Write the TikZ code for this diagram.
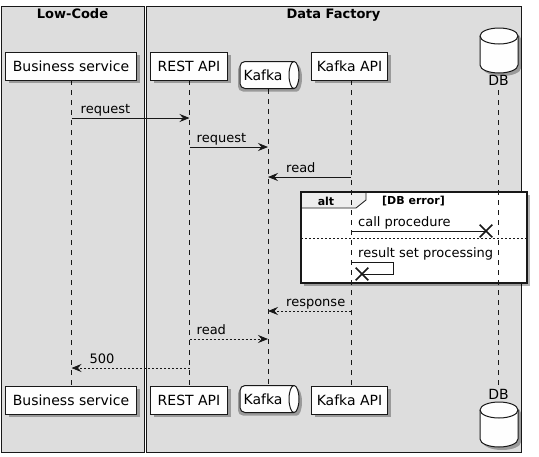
\documentclass[tikz,border=0pt]{standalone}
\usepackage{fontspec}
\setmainfont{DejaVu Sans}
\usetikzlibrary{arrows.meta,shadows,shapes.misc}
\definecolor{bg}{HTML}{DDDDDD}
\definecolor{ln}{HTML}{181818}
\definecolor{part}{HTML}{FEFEFE}
\definecolor{tabc}{HTML}{EEEEEE}
\begin{document}
\begin{tikzpicture}[x=1pt,y=-1pt,
  frame/.style={draw=ln, fill=bg, line width=0.9pt},
  shad/.style={drop shadow={shadow xshift=3pt, shadow yshift=-3pt, opacity=0.3, fill=black}},
  ptbox/.style={draw=ln, fill=part, line width=1pt, minimum height=28pt, inner sep=0pt,
                font=\fontsize{14}{16}\selectfont, shad},
  ptext/.style={inner sep=0pt, font=\fontsize{14}{16}\selectfont},
  title/.style={font=\fontsize{13}{15}\selectfont\bfseries, anchor=base, inner sep=0pt},
  lbl/.style={font=\fontsize{13}{15}\selectfont, anchor=base west, inner sep=0pt},
  grp/.style={font=\fontsize{11}{13}\selectfont\bfseries, inner sep=0pt},
  lifeline/.style={draw=ln, line width=0.7pt, dash pattern=on 5pt off 5pt},
  msg/.style={draw=ln, line width=0.8pt, -{Stealth[length=10pt,width=8pt,inset=3.5pt]}},
  ret/.style={msg, dash pattern=on 2pt off 2pt},
  plainmsg/.style={draw=ln, line width=0.8pt},
  xmark/.style={cross out, draw=ln, line width=1.6pt, minimum size=11pt, inner sep=0pt},
  shapeline/.style={draw=ln, fill=part, line width=1pt}
]
\useasboundingbox (0,0) rectangle (539,456);
\fill[white] (0,0) rectangle (539,456);

% boxes
\draw[frame] (1,6) rectangle (144,452);
\draw[frame] (146,6) rectangle (521,452);
\node[title] (lowcode) at (72.5,18) {Low-Code};
\node[title] (datafactory) at (333.5,18) {Data Factory};

% lifeline positions
\coordinate (L1) at (71.5,0);
\coordinate (L2) at (189.5,0);
\coordinate (L3) at (268,0);
\coordinate (L4) at (351,0);
\coordinate (L5) at (498.5,0);

% alt group
\fill[white, shad] (301,192) rectangle (527,283);
\filldraw[fill=tabc, draw=ln, line width=0.8pt] (301,192) -- (366,192) -- (366,200) -- (356,208) -- (301,208) -- cycle;
\draw[ln, line width=1.5pt] (301,192) rectangle (527,283);
\node[grp, anchor=base] (altlbl) at (326,205) {alt};
\node[grp, anchor=base west] (cond) at (382,204) {[DB error]};
\draw[ln, line width=0.8pt, dash pattern=on 2pt off 2pt] (301,238) -- (527,238);

% lifelines
\draw[lifeline] (L1 |- 0,80) -- (L1 |- 0,386);
\draw[lifeline] (L2 |- 0,80) -- (L2 |- 0,386);
\draw[lifeline] (L3 |- 0,89) -- (L3 |- 0,385);
\draw[lifeline] (L4 |- 0,80) -- (L4 |- 0,386);
\draw[lifeline] (L5 |- 0,90) -- (L5 |- 0,388);

% top heads
\node[ptbox, minimum width=131pt] (bsT) at (71,66) {Business service};
\node[ptbox, minimum width=77pt] (restT) at (189,66) {REST API};
\node[ptbox, minimum width=76pt] (kapiT) at (349.5,66) {Kafka API};
\begin{scope}[shift={(268,75)}]
  \fill[black, opacity=0.3] (29,-10.5) -- (-25,-10.5) arc[start angle=90,end angle=180,radius=5pt] -- (-30,11.5) arc[start angle=180,end angle=270,radius=5pt] -- (29,16.5) arc[start angle=-90,end angle=90,x radius=5pt,y radius=13.5pt] -- cycle;
  \filldraw[shapeline] (26,-13.5) -- (-23,-13.5) arc[start angle=90,end angle=180,radius=5pt] -- (-28,8.5) arc[start angle=180,end angle=270,radius=5pt] -- (26,13.5) arc[start angle=-90,end angle=90,x radius=5pt,y radius=13.5pt] -- cycle;
  \draw[ln, line width=1pt] (26,-13.5) arc[start angle=90,end angle=270,x radius=5pt,y radius=13.5pt];
\end{scope}
\node[ptext] (kafkaT) at (263,75) {Kafka};
\begin{scope}[shift={(499,50.5)}]
  \fill[black, opacity=0.3] (-16,-11.5) -- (-16,17.5) arc[start angle=180,end angle=360,x radius=19pt,y radius=8pt] -- (22,-11.5) arc[start angle=0,end angle=180,x radius=19pt,y radius=8pt] -- cycle;
  \filldraw[shapeline] (-19,-14.5) -- (-19,14.5) arc[start angle=180,end angle=360,x radius=19pt,y radius=8pt] -- (19,-14.5) arc[start angle=0,end angle=180,x radius=19pt,y radius=8pt] -- cycle;
  \draw[ln, line width=1pt] (-19,-14.5) arc[start angle=180,end angle=360,x radius=19pt,y radius=8pt];
\end{scope}
\node[ptext, anchor=base] (dbT) at (498.5,85) {DB};

% bottom heads
\node[ptbox, minimum width=131pt] (bsB) at (71,400) {Business service};
\node[ptbox, minimum width=77pt] (restB) at (189,400) {REST API};
\node[ptbox, minimum width=76pt] (kapiB) at (349.5,400) {Kafka API};
\begin{scope}[shift={(268,399)}]
  \fill[black, opacity=0.3] (29,-10.5) -- (-25,-10.5) arc[start angle=90,end angle=180,radius=5pt] -- (-30,11.5) arc[start angle=180,end angle=270,radius=5pt] -- (29,16.5) arc[start angle=-90,end angle=90,x radius=5pt,y radius=13.5pt] -- cycle;
  \filldraw[shapeline] (26,-13.5) -- (-23,-13.5) arc[start angle=90,end angle=180,radius=5pt] -- (-28,8.5) arc[start angle=180,end angle=270,radius=5pt] -- (26,13.5) arc[start angle=-90,end angle=90,x radius=5pt,y radius=13.5pt] -- cycle;
  \draw[ln, line width=1pt] (26,-13.5) arc[start angle=90,end angle=270,x radius=5pt,y radius=13.5pt];
\end{scope}
\node[ptext] (kafkaB) at (263,399) {Kafka};
\node[ptext, anchor=base] (dbB) at (498.5,399) {DB};
\begin{scope}[shift={(499,424.5)}]
  \fill[black, opacity=0.3] (-16,-11.5) -- (-16,17.5) arc[start angle=180,end angle=360,x radius=19pt,y radius=8pt] -- (22,-11.5) arc[start angle=0,end angle=180,x radius=19pt,y radius=8pt] -- cycle;
  \filldraw[shapeline] (-19,-14.5) -- (-19,14.5) arc[start angle=180,end angle=360,x radius=19pt,y radius=8pt] -- (19,-14.5) arc[start angle=0,end angle=180,x radius=19pt,y radius=8pt] -- cycle;
  \draw[ln, line width=1pt] (-19,-14.5) arc[start angle=180,end angle=360,x radius=19pt,y radius=8pt];
\end{scope}

% messages
\draw[msg] (L1 |- 0,118) -- (L2 |- 0,118);
\node[lbl, xshift=9pt] (m1) at (L1 |- 0,113) {request};
\draw[msg] (L2 |- 0,147) -- (L3 |- 0,147);
\node[lbl, xshift=7pt] (m2) at (L2 |- 0,142) {request};
\draw[msg] (L4 |- 0,177) -- (L3 |- 0,177);
\node[lbl, xshift=18pt] (m3) at (L3 |- 0,172) {read};

\node[xmark] (x1) at (486,231) {};
\draw[plainmsg] (L4 |- 0,231) -- (x1.center);
\node[lbl, xshift=7pt] (m4) at (L4 |- 0,226) {call procedure};

\node[xmark] (x2) at (362,274) {};
\draw[plainmsg] (L4 |- 0,262) -- (393,262) -- (393,274) -- (x2.center);
\node[lbl, xshift=7pt] (m5) at (L4 |- 0,257) {result set processing};

\draw[ret] (L4 |- 0,311) -- (L3 |- 0,311);
\node[lbl, xshift=18pt] (m6) at (L3 |- 0,306) {response};
\draw[ret] (L2 |- 0,339) -- (L3 |- 0,339);
\node[lbl, xshift=7pt] (m7) at (L2 |- 0,334) {read};
\draw[ret] (L2 |- 0,368) -- (L1 |- 0,368);
\node[lbl, xshift=18pt] (m8) at (L1 |- 0,363) {500};
\end{tikzpicture}
\end{document}
